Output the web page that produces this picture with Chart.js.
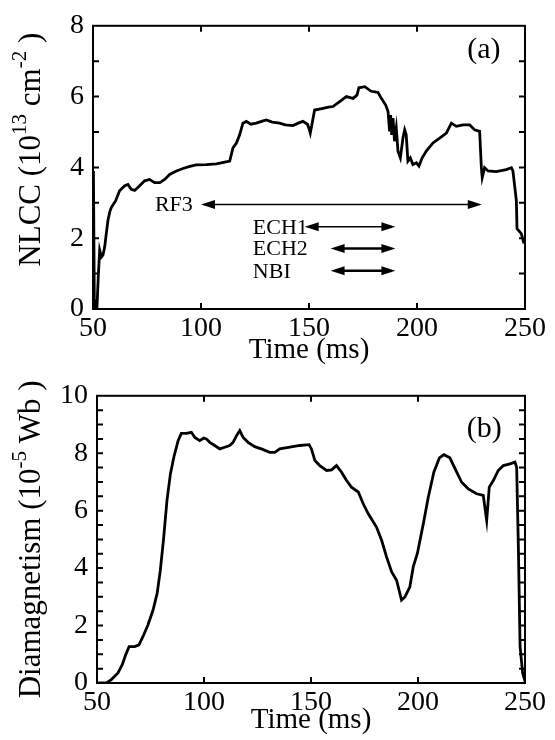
<!DOCTYPE html>
<html>
<head>
<meta charset="utf-8">
<script src="https://cdn.jsdelivr.net/npm/chart.js@4/dist/chart.umd.min.js"></script>
<style>
  body { margin: 0; background: #fff; }
  .panel { position: absolute; left: 0; width: 555px; height: 370px; }
</style>
</head>
<body>
<div class="panel" style="top:0"><canvas id="chart-a" width="555" height="370"></canvas></div>
<div class="panel" style="top:370px"><canvas id="chart-b" width="555" height="370"></canvas></div>
<script>
// (a) line-integrated density
const timeA = [
  50.2, 50.6, 51.0, 51.8, 52.5, 53.1, 53.9, 54.6, 55.4, 56.9,
  57.8, 58.5, 60.5, 62.3, 64.7, 66.2, 67.7, 69.3, 71.6, 73.9,
  76.2, 78.5, 80.9, 83.2, 85.5, 88.6, 91.7, 94.8, 97.8, 102.5,
  107.1, 111.0, 113.3, 114.8, 116.4, 117.9, 119.4, 121.0, 123.0, 125.6,
  128.0, 130.2, 133.0, 136.4, 139.0, 142.6, 145.0, 147.2, 149.3, 150.0,
  150.6, 152.6, 156.5, 159.0, 161.1, 164.2, 167.3, 170.4, 172.2, 173.1,
  175.8, 178.8, 181.9, 183.5, 185.5, 186.6, 187.3, 187.8, 188.3, 188.9,
  189.6, 190.4, 191.2, 192.3, 193.5, 194.3, 195.0, 195.8, 196.9, 198.1,
  199.7, 200.9, 202.4, 204.3, 207.4, 210.5, 213.6, 215.9, 218.2, 221.3,
  224.4, 226.7, 229.0, 229.8, 230.2, 231.3, 232.9, 236.7, 241.3, 243.7,
  244.4, 246.0, 246.3, 248.3, 249.5
];
const nlcc = [
  3.9, 0.3, 0, 0, 1.0, 1.66, 1.47, 1.52, 1.75, 2.5,
  2.75, 2.87, 3.06, 3.34, 3.48, 3.52, 3.38, 3.35, 3.48, 3.62,
  3.66, 3.57, 3.57, 3.66, 3.8, 3.9, 3.97, 4.03, 4.07, 4.08,
  4.1, 4.15, 4.18, 4.55, 4.69, 4.92, 5.25, 5.3, 5.22, 5.25,
  5.3, 5.34, 5.28, 5.25, 5.2, 5.18, 5.25, 5.3, 5.22, 5.1,
  4.97, 5.62, 5.67, 5.7, 5.72, 5.86, 6.0, 5.95, 6.04, 6.25,
  6.28, 6.15, 6.12, 5.95, 5.76, 5.58, 5.02, 5.48, 4.92, 5.39,
  4.74, 5.11, 4.46, 4.27, 4.83, 5.06, 4.92, 4.18, 4.27, 4.08,
  4.13, 4.04, 4.27, 4.46, 4.69, 4.83, 4.97, 5.25, 5.16, 5.2,
  5.2, 5.06, 5.02, 3.99, 3.71, 3.99, 3.9, 3.88, 3.94, 3.99,
  3.9, 3.06, 2.27, 2.13, 1.85
];

// (b) diamagnetic flux
const timeB = [
  50, 54.4, 56.7, 59.8, 61.8, 63.4, 65.0, 67.6, 69.6, 71.5,
  73.8, 76.2, 78.1, 79.6, 81.2, 82.7, 84.3, 85.9, 87.9, 89.4,
  91.8, 94.1, 95.7, 98.0, 99.9, 101.1, 102.7, 105.0, 107.4, 109.7,
  112.0, 113.6, 115.2, 116.7, 118.3, 120.6, 123.7, 126.8, 130.7, 133.1,
  135.4, 140.1, 144.8, 149.1, 150.2, 151.8, 154.1, 157.3, 159.6, 161.9,
  164.3, 166.6, 168.9, 172.1, 174.4, 176.7, 180.6, 183.0, 185.3, 187.7,
  190.0, 192.3, 193.9, 196.2, 197.8, 199.7, 202.5, 204.8, 207.4, 210.0,
  212.1, 214.9, 217.7, 220.4, 223.5, 227.4, 230.5, 232.1, 233.3, 235.2,
  237.5, 239.9, 243.0, 245.3, 246.1, 246.9, 247.7, 248.9, 250
];
const diamag = [
  0, 0, 0.12, 0.35, 0.64, 0.98, 1.27, 1.27, 1.33, 1.62,
  2.02, 2.54, 3.12, 3.93, 5.09, 6.36, 7.28, 7.86, 8.44, 8.69,
  8.69, 8.73, 8.55, 8.44, 8.53, 8.5, 8.38, 8.27, 8.15, 8.21,
  8.27, 8.38, 8.61, 8.79, 8.55, 8.38, 8.23, 8.15, 8.03, 8.03,
  8.15, 8.21, 8.27, 8.3, 8.15, 7.75, 7.57, 7.4, 7.42, 7.57,
  7.34, 7.05, 6.82, 6.65, 6.24, 5.9, 5.43, 4.97, 4.39, 3.87,
  3.58, 2.89, 3.0, 3.35, 4.05, 4.51, 5.55, 6.47, 7.34, 7.84,
  7.95, 7.84, 7.4, 6.99, 6.76, 6.59, 6.53, 5.66, 6.82, 7.05,
  7.4, 7.57, 7.63, 7.69, 7.51, 4.74, 1.27, 0.35, 0.06
];

// heating pulses marked in (a)
const heatNames = ['RF3', 'ECH1', 'ECH2', 'NBI'];
const heatStart = [100, 148, 160, 160];
const heatEnd = [230, 190, 190, 190];
const heatLevel = [2.95, 2.32, 1.71, 1.08];
const heatLabelAt = [96.2, 124, 124, 124];
const heatLabelAlign = ['right', 'left', 'left', 'left'];
const heatLineWidth = [1.5, 1.5, 2.5, 2.5];

const xMarks = [100, 150, 200];

const serif = 'Liberation Serif';

function drawArrow(ctx, x1, x2, y, lw) {
  const hl = 14, hw = 4.5;
  ctx.lineWidth = lw;
  ctx.beginPath();
  ctx.moveTo(x1 + hl - 2, y);
  ctx.lineTo(x2 - hl + 2, y);
  ctx.stroke();
  ctx.beginPath();
  ctx.moveTo(x1, y); ctx.lineTo(x1 + hl, y - hw); ctx.lineTo(x1 + hl, y + hw); ctx.closePath();
  ctx.moveTo(x2, y); ctx.lineTo(x2 - hl, y - hw); ctx.lineTo(x2 - hl, y + hw); ctx.closePath();
  ctx.fill();
}

// frame with inward ticks, rotated title with superscripts, panel letter, arrows
const framePlugin = {
  id: 'frame',
  afterDraw(chart, args, o) {
    const { ctx, chartArea: a, scales: { x, y } } = chart;
    ctx.save();
    ctx.strokeStyle = '#000';
    ctx.fillStyle = '#000';
    ctx.lineWidth = 2;
    ctx.strokeRect(a.left, a.top, a.right - a.left, a.bottom - a.top);
    ctx.beginPath();
    xMarks.forEach(t => {
      const px = x.getPixelForValue(t);
      ctx.moveTo(px, a.bottom); ctx.lineTo(px, a.bottom - 6);
      ctx.moveTo(px, a.top); ctx.lineTo(px, a.top + 6);
    });
    for (let v = o.yStep; v < y.max - 1e-6; v += o.yStep) {
      const py = y.getPixelForValue(v);
      ctx.moveTo(a.left, py); ctx.lineTo(a.left + 6, py);
      ctx.moveTo(a.right, py); ctx.lineTo(a.right - 6, py);
    }
    ctx.stroke();

    // y title
    const big = o.titleSize, small = Math.round(o.titleSize * 0.68);
    let total = 0;
    o.title.forEach(s => {
      ctx.font = (s.sup ? small : big) + 'px "' + serif + '"';
      total += ctx.measureText(s.t).width;
    });
    ctx.translate(o.titleX, y.getPixelForValue(o.titleMid));
    ctx.rotate(-Math.PI / 2);
    ctx.textBaseline = 'middle';
    ctx.textAlign = 'left';
    let cx = -total / 2;
    o.title.forEach(s => {
      ctx.font = (s.sup ? small : big) + 'px "' + serif + '"';
      ctx.fillText(s.t, cx, s.sup ? -big * 0.36 : 0);
      cx += ctx.measureText(s.t).width;
    });
    ctx.setTransform(1, 0, 0, 1, 0, 0);

    // panel letter
    ctx.font = '30px "' + serif + '"';
    ctx.textAlign = 'center';
    ctx.textBaseline = 'middle';
    ctx.fillText(o.letter, x.getPixelForValue(o.letterAt[0]), y.getPixelForValue(o.letterAt[1]));

    if (o.arrows) {
      ctx.font = '22px "' + serif + '"';
      heatNames.forEach((name, i) => {
        const py = y.getPixelForValue(heatLevel[i]);
        drawArrow(ctx, x.getPixelForValue(heatStart[i]), x.getPixelForValue(heatEnd[i]), py, heatLineWidth[i]);
        ctx.textAlign = heatLabelAlign[i];
        ctx.fillText(name, x.getPixelForValue(heatLabelAt[i]), py + 1);
      });
    }
    ctx.restore();
  }
};

function makeChart(id, times, values, yMax, yWidth, xHeight, padTop, extra) {
  return new Chart(document.getElementById(id), {
    type: 'line',
    data: {
      datasets: [{
        data: times.map((t, i) => ({ x: t, y: values[i] })),
        borderColor: '#000',
        borderWidth: 2.8,
        pointRadius: 0,
        tension: 0,
        fill: false
      }]
    },
    options: {
      responsive: false,
      animation: false,
      layout: { padding: { left: 0, top: padTop, right: 30, bottom: 0 } },
      plugins: {
        legend: { display: false },
        tooltip: { enabled: false },
        frame: extra
      },
      scales: {
        x: {
          type: 'linear',
          min: 50, max: 250,
          grid: { display: false, drawTicks: false },
          border: { display: false },
          ticks: {
            stepSize: 50, padding: 3, color: '#000', maxRotation: 0, autoSkip: false,
            font: { family: serif, size: 28 }
          },
          title: {
            display: true, text: 'Time (ms)', color: '#000',
            font: { family: serif, size: 29 }, padding: { top: 0, bottom: 2 }
          },
          afterFit: s => { s.height = xHeight; }
        },
        y: {
          min: 0, max: yMax,
          grid: { display: false, drawTicks: false },
          border: { display: false },
          ticks: {
            stepSize: 2, padding: 9, color: '#000',
            font: { family: serif, size: 28 }
          },
          afterFit: s => { s.width = yWidth; }
        }
      }
    },
    plugins: [framePlugin]
  });
}

makeChart('chart-a', timeA, nlcc, 8, 93, 61, 24, {
  yStep: 1,
  titleSize: 31, titleX: 32, titleMid: 4.5,
  title: [
    { t: 'NLCC (10' }, { t: '13', sup: true }, { t: ' cm' }, { t: '-2', sup: true }, { t: ' )' }
  ],
  letter: '(a)', letterAt: [231, 7.3],
  arrows: true
});

makeChart('chart-b', timeB, diamag, 10, 97, 57, 25, {
  yStep: 0.5,
  titleSize: 31, titleX: 32, titleMid: 5,
  title: [
    { t: 'Diamagnetism (10' }, { t: '-5', sup: true }, { t: ' Wb )' }
  ],
  letter: '(b)', letterAt: [231, 8.85],
  arrows: false
});
</script>
</body>
</html>
